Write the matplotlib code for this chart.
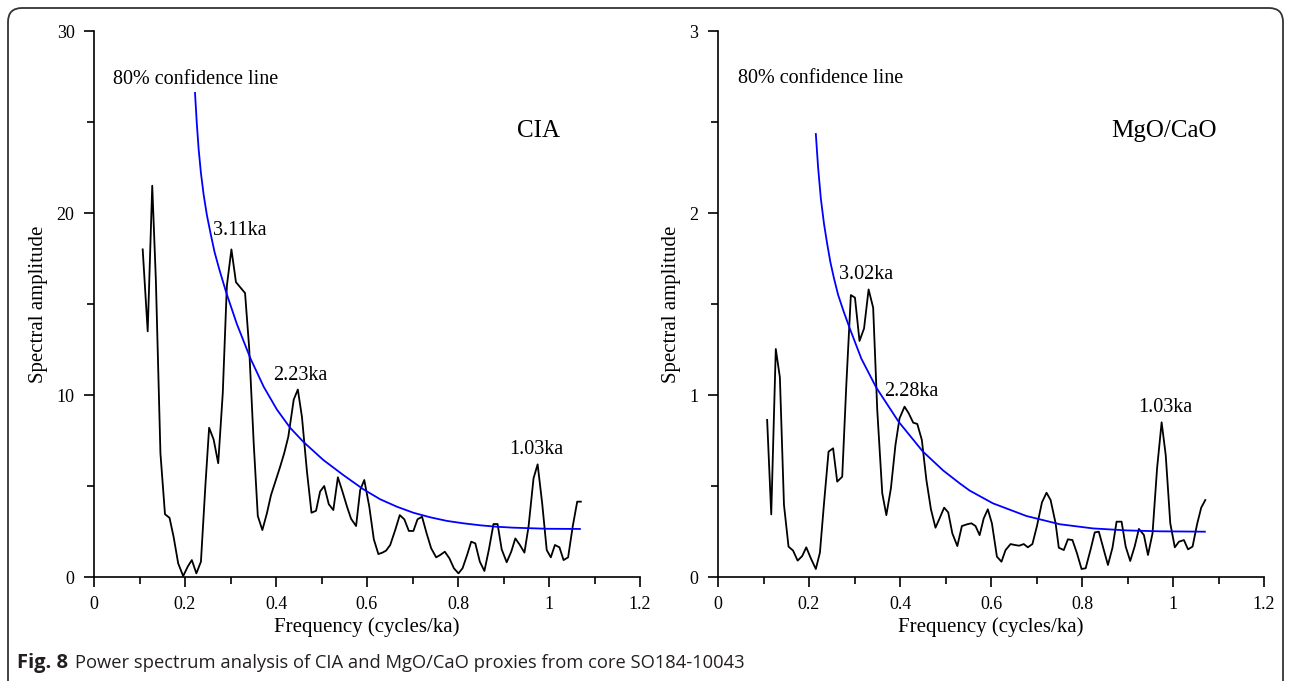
import matplotlib
matplotlib.use("Agg")
import matplotlib.pyplot as plt
from matplotlib.patches import FancyBboxPatch
from matplotlib.transforms import IdentityTransform
from matplotlib.ticker import MultipleLocator

plt.rcParams['font.family'] = ['Liberation Serif', 'DejaVu Serif']

# CIA spectrum
cia_freq = [0.107, 0.118, 0.128, 0.136, 0.146, 0.156, 0.166, 0.175, 0.185, 0.196,
            0.206, 0.215, 0.225, 0.235, 0.245, 0.253, 0.263, 0.273, 0.283, 0.292,
            0.302, 0.312, 0.322, 0.332, 0.341, 0.351, 0.360, 0.370, 0.380, 0.389,
            0.400, 0.409, 0.418, 0.427, 0.439, 0.448, 0.457, 0.468, 0.478, 0.488,
            0.497, 0.506, 0.516, 0.526, 0.536, 0.546, 0.556, 0.565, 0.576, 0.585,
            0.594, 0.605, 0.615, 0.625, 0.634, 0.642, 0.651, 0.662, 0.672, 0.682,
            0.692, 0.702, 0.711, 0.721, 0.731, 0.741, 0.752, 0.761, 0.771, 0.781,
            0.791, 0.801, 0.810, 0.820, 0.829, 0.838, 0.848, 0.858, 0.868, 0.878,
            0.887, 0.896, 0.907, 0.917, 0.926, 0.936, 0.946, 0.955, 0.966, 0.975,
            0.985, 0.995, 1.004, 1.013, 1.023, 1.032, 1.042, 1.052, 1.062, 1.070]
cia_amp = [18.0, 13.5, 21.5, 16.3, 6.8, 3.45, 3.25, 2.2, 0.75, 0.05,
           0.57, 0.93, 0.2, 0.84, 5.1, 8.2, 7.55, 6.25, 10.1, 16.0,
           18.0, 16.2, 15.9, 15.6, 12.6, 7.35, 3.35, 2.58, 3.5, 4.5,
           5.35, 6.05, 6.8, 7.7, 9.75, 10.3, 8.8, 5.8, 3.53, 3.64,
           4.7, 5.0, 4.0, 3.68, 5.48, 4.7, 3.87, 3.2, 2.8, 4.78,
           5.33, 3.87, 2.07, 1.26, 1.34, 1.45, 1.76, 2.58, 3.4, 3.17,
           2.53, 2.53, 3.17, 3.31, 2.4, 1.58, 1.08, 1.21, 1.39, 1.03,
           0.48, 0.2, 0.48, 1.21, 1.94, 1.85, 0.84, 0.33, 1.52, 2.91,
           2.91, 1.52, 0.81, 1.39, 2.12, 1.76, 1.34, 2.76, 5.42, 6.19,
           4.05, 1.48, 1.08, 1.76, 1.63, 0.93, 1.08, 2.76, 4.14, 4.14]

cia_conf_freq = [0.222, 0.226, 0.230, 0.235, 0.241, 0.248, 0.256, 0.265, 0.276, 0.291,
                 0.314, 0.344, 0.373, 0.402, 0.431, 0.460, 0.504, 0.548, 0.592, 0.629,
                 0.666, 0.702, 0.739, 0.776, 0.812, 0.849, 0.886, 0.922, 0.959, 0.996,
                 1.068]
cia_conf = [26.6, 24.9, 23.5, 22.2, 21.0, 19.9, 18.9, 17.85, 16.85, 15.6,
            13.9, 12.0, 10.45, 9.2, 8.2, 7.43, 6.43, 5.6, 4.82, 4.27,
            3.86, 3.53, 3.28, 3.08, 2.95, 2.84, 2.76, 2.71, 2.68, 2.65,
            2.64]

# MgO/CaO spectrum
mg_freq = [0.108, 0.117, 0.127, 0.136, 0.145, 0.155, 0.165, 0.175, 0.185, 0.194,
           0.204, 0.215, 0.224, 0.233, 0.243, 0.253, 0.262, 0.273, 0.282, 0.292,
           0.301, 0.311, 0.321, 0.331, 0.341, 0.350, 0.361, 0.370, 0.380, 0.390,
           0.399, 0.410, 0.419, 0.429, 0.438, 0.448, 0.458, 0.468, 0.478, 0.487,
           0.497, 0.506, 0.515, 0.526, 0.536, 0.548, 0.557, 0.566, 0.575, 0.584,
           0.593, 0.602, 0.613, 0.623, 0.632, 0.643, 0.652, 0.662, 0.672, 0.681,
           0.691, 0.701, 0.712, 0.722, 0.731, 0.742, 0.749, 0.760, 0.769, 0.779,
           0.789, 0.799, 0.808, 0.819, 0.828, 0.837, 0.848, 0.857, 0.867, 0.876,
           0.887, 0.896, 0.906, 0.916, 0.925, 0.936, 0.945, 0.955, 0.965, 0.975,
           0.984, 0.994, 1.004, 1.013, 1.024, 1.033, 1.043, 1.053, 1.062, 1.071]
mg_amp = [0.863, 0.344, 1.253, 1.097, 0.396, 0.167, 0.145, 0.09, 0.115, 0.163,
          0.103, 0.044, 0.134, 0.405, 0.689, 0.707, 0.524, 0.551, 1.055, 1.549,
          1.535, 1.297, 1.366, 1.58, 1.48, 0.918, 0.46, 0.34, 0.487, 0.725,
          0.872, 0.936, 0.9, 0.848, 0.841, 0.753, 0.533, 0.372, 0.271, 0.322,
          0.381, 0.355, 0.24, 0.17, 0.28, 0.29, 0.295, 0.28, 0.23, 0.322,
          0.372, 0.295, 0.112, 0.084, 0.148, 0.181, 0.176, 0.172, 0.181, 0.163,
          0.181, 0.28, 0.41, 0.463, 0.423, 0.295, 0.161, 0.148, 0.207, 0.203,
          0.13, 0.044, 0.048, 0.152, 0.245, 0.249, 0.148, 0.066, 0.161, 0.304,
          0.304, 0.167, 0.088, 0.17, 0.264, 0.231, 0.121, 0.24, 0.597, 0.85,
          0.67, 0.295, 0.163, 0.194, 0.203, 0.152, 0.167, 0.291, 0.381, 0.423]

mg_conf_freq = [0.215, 0.220, 0.226, 0.233, 0.240, 0.247, 0.255, 0.264, 0.276, 0.289,
                0.315, 0.348, 0.397, 0.450, 0.495, 0.531, 0.553, 0.604, 0.678, 0.751,
                0.824, 0.898, 0.971, 1.070]
mg_conf = [2.434, 2.25, 2.08, 1.94, 1.83, 1.73, 1.64, 1.55, 1.46, 1.37,
           1.20, 1.04, 0.853, 0.69, 0.585, 0.515, 0.475, 0.405, 0.335, 0.29,
           0.267, 0.256, 0.251, 0.249]

W, H = 1290, 681

fig = plt.figure(figsize=(W / 100, H / 100), dpi=100)

# rounded frame around the whole figure
frame = FancyBboxPatch((8, -20), 1275, 693, boxstyle="round,pad=0,rounding_size=14",
                       transform=IdentityTransform(), fill=False,
                       edgecolor="#333333", linewidth=1.3)
fig.patches.append(frame)


def panel(left, freq, amp, cfreq, conf, ymax, ymajor, yminor, name, name_xy, peaks, conf_xy):
    ax = fig.add_axes([left / W, 1 - 577 / H, 546 / W, 546 / H])
    ax.plot(freq, amp, color="black", linewidth=1.3)
    ax.plot(cfreq, conf, color="#0000ff", linewidth=1.3)
    ax.set_xlim(0, 1.2)
    ax.set_ylim(0, ymax)
    ax.set_xticks([0, 0.2, 0.4, 0.6, 0.8, 1.0, 1.2])
    ax.set_xticklabels(["0", "0.2", "0.4", "0.6", "0.8", "1", "1.2"])
    ax.xaxis.set_minor_locator(MultipleLocator(0.1))
    ax.yaxis.set_major_locator(MultipleLocator(ymajor))
    ax.yaxis.set_minor_locator(MultipleLocator(yminor))
    for s in ["top", "right"]:
        ax.spines[s].set_visible(False)
    for s in ["left", "bottom"]:
        ax.spines[s].set_linewidth(1.2)
    ax.tick_params(which="major", direction="out", length=7, width=1.2,
                   labelsize=13, pad=7)
    ax.tick_params(which="minor", direction="out", length=5, width=1.2)
    ax.set_xlabel("Frequency (cycles/ka)", fontsize=15, labelpad=3)
    ax.set_ylabel("Spectral amplitude", fontsize=15, labelpad=6)
    ax.patch.set_alpha(0)
    ax.text(conf_xy[0], conf_xy[1], "80% confidence line", fontsize=14.5)
    ax.text(name_xy[0], name_xy[1], name, fontsize=18)
    for (x, y, t) in peaks:
        ax.text(x, y, t, fontsize=14.5)
    return ax


panel(94, cia_freq, cia_amp, cia_conf_freq, cia_conf, 30, 10, 5, "CIA", (0.93, 24.2),
      [(0.2615, 18.8, "3.11ka"), (0.394, 10.8, "2.23ka"), (0.913, 6.76, "1.03ka")],
      (0.041, 27.1))
panel(718, mg_freq, mg_amp, mg_conf_freq, mg_conf, 3, 1, 0.5, "MgO/CaO", (0.865, 2.42),
      [(0.2664, 1.636, "3.02ka"), (0.366, 0.996, "2.28ka"), (0.9246, 0.905, "1.03ka")],
      (0.044, 2.713))

# caption
cap_y = 1 - 668 / H
fig.text(17 / W, cap_y, "Fig. 8", fontsize=14.5, weight="bold",
         family="Open Sans", color="#231f20")
fig.text(75 / W, cap_y,
         "Power spectrum analysis of CIA and MgO/CaO proxies from core SO184-10043",
         fontsize=13.2, family="Open Sans", color="#231f20")

fig.savefig("out.png", dpi=100)
